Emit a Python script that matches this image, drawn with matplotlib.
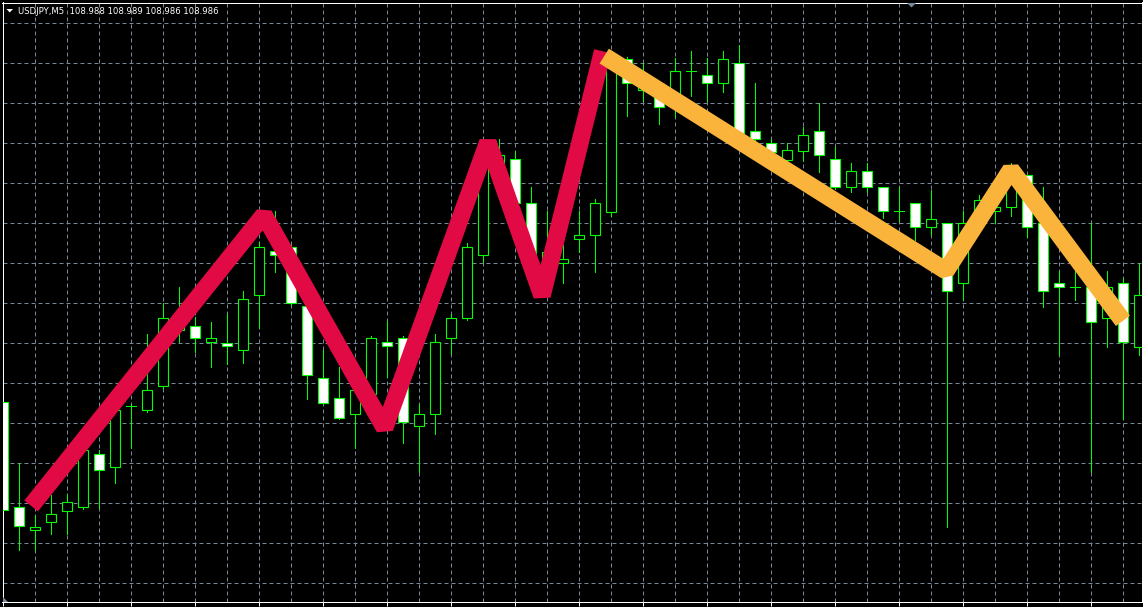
import matplotlib
matplotlib.use("Agg")
import matplotlib.pyplot as plt
from matplotlib.patches import Polygon
import numpy as np

# ---------------- data (USDJPY, M5) ----------------
opens = [108.9653, 108.9391, 108.9333, 108.9353, 108.9381, 108.9391, 108.9523, 108.9491, 108.9643, 108.9633,
         108.9693, 108.9833, 108.9843, 108.9803, 108.9801, 108.9783, 108.9921, 109.0031, 109.0041, 108.9893,
         108.9713, 108.9663, 108.9623, 108.9673, 108.9803, 108.9813, 108.9593, 108.9623, 108.9813, 108.9863,
         109.0021, 109.0251, 109.0261, 109.0151, 109.0013, 109.0001, 109.0061, 109.0071, 109.0128, 109.0511,
         109.0433, 109.0428, 109.0408, 109.0481, 109.0471, 109.0451, 109.0501, 109.0331, 109.0301, 109.0258,
         109.0281, 109.0331, 109.0261, 109.0191, 109.0231, 109.0191, 109.0131, 109.0151, 109.0091, 109.0101,
         108.9951, 109.0121, 109.0131, 109.0141, 109.0221, 109.0101, 108.9951, 108.9941, 108.9941, 108.9863,
         108.9951, 108.9791]
highs = [108.9663, 108.9500, 108.9371, 108.9421, 108.9423, 108.9546, 108.9533, 108.9658, 108.9648, 108.9823,
         108.9901, 108.9941, 108.9866, 108.9853, 108.9873, 108.9931, 109.0053, 109.0131, 109.0046, 108.9898,
         108.9783, 108.9741, 108.9693, 108.9818, 108.9856, 108.9818, 108.9648, 108.9823, 108.9873, 109.0051,
         109.0258, 109.0311, 109.0281, 109.0191, 109.0131, 109.0046, 109.0131, 109.0161, 109.0528, 109.0516,
         109.0501, 109.0438, 109.0513, 109.0531, 109.0513, 109.0531, 109.0546, 109.0451, 109.0311, 109.0301,
         109.0341, 109.0401, 109.0291, 109.0251, 109.0251, 109.0191, 109.0191, 109.0151, 109.0183, 109.0101,
         109.0131, 109.0171, 109.0158, 109.0251, 109.0221, 109.0191, 108.9981, 108.9981, 109.0101, 108.9981,
         108.9963, 109.0001]
lows = [108.9376, 108.9283, 108.9283, 108.9323, 108.9323, 108.9386, 108.9388, 108.9451, 108.9538, 108.9628,
        108.9688, 108.9803, 108.9778, 108.9741, 108.9748, 108.9751, 108.9838, 108.9978, 108.9896, 108.9661,
        108.9648, 108.9611, 108.9538, 108.9668, 108.9716, 108.9551, 108.9478, 108.9573, 108.9773, 108.9858,
        109.0003, 109.0233, 109.0146, 109.0008, 108.9988, 108.9951, 109.0028, 108.9978, 109.0118, 109.0368,
        109.0406, 109.0348, 109.0366, 109.0418, 109.0406, 109.0428, 109.0321, 109.0306, 109.0271, 109.0246,
        109.0256, 109.0228, 109.0186, 109.0178, 109.0178, 109.0113, 109.0106, 109.0058, 109.0071, 108.9341,
        108.9908, 109.0103, 109.0101, 109.0118, 109.0066, 108.9891, 108.9771, 108.9908, 108.9478, 108.9791,
        108.9611, 108.9771]
closes = [108.9383, 108.9343, 108.9341, 108.9373, 108.9403, 108.9533, 108.9483, 108.9633, 108.9643, 108.9683,
          108.9863, 108.9863, 108.9813, 108.9813, 108.9793, 108.9911, 109.0041, 109.0021, 108.9901, 108.9721,
          108.9651, 108.9613, 108.9683, 108.9813, 108.9793, 108.9603, 108.9623, 108.9803, 108.9863, 109.0041,
          109.0246, 109.0271, 109.0151, 109.0013, 109.0028, 109.0011, 109.0071, 109.0151, 109.0508, 109.0451,
          109.0458, 109.0391, 109.0481, 109.0481, 109.0451, 109.0511, 109.0326, 109.0311, 109.0278, 109.0283,
          109.0321, 109.0271, 109.0191, 109.0231, 109.0191, 109.0131, 109.0131, 109.0091, 109.0111, 108.9931,
          109.0101, 109.0158, 109.0141, 109.0201, 109.0091, 108.9931, 108.9941, 108.9941, 108.9853, 108.9941,
          108.9803, 108.9921]

# zigzag vertices: (bar position, price)
red_bar = [1.74, 16.29, 23.83, 30.29, 33.67, 37.46]
red_price = [108.9393, 109.0121, 108.9588, 109.0303, 108.9919, 109.0530]
orange_bar = [37.56, 58.92, 62.98, 69.98]
orange_price = [109.0518, 108.9981, 109.0234, 108.9856]

title = "USDJPY,M5  108.988 108.989 108.986 108.986"
grid_levels = [108.92 + 0.01 * k for k in range(15)]

# ---------------- figure ----------------
W, H = 1143, 607
fig = plt.figure(figsize=(W / 100, H / 100), dpi=100, facecolor="black")
ax = fig.add_axes([2.5 / W, 5.5 / H, 1139 / W, 599 / H])
ax.set_facecolor("black")

PX = 0.72  # one pixel in points
green = "#00FF00"

x = np.arange(len(opens))
o = np.array(opens); h = np.array(highs); l = np.array(lows); c = np.array(closes)

# wicks
ax.vlines(x, l, h, color=green, lw=PX, zorder=2, snap=True, antialiased=False)
# bodies
bull = c > o
bear = c < o
doji = c == o
bw = 0.6
ax.bar(x[bull], (c - o)[bull], bottom=o[bull], width=bw, facecolor="black",
       edgecolor=green, linewidth=PX * 1.1, zorder=3, snap=True)
ax.bar(x[bear], (o - c)[bear], bottom=c[bear], width=bw, facecolor="white",
       edgecolor=green, linewidth=PX * 1.1, zorder=3, snap=True)
ax.hlines(o[doji], x[doji] - bw / 2, x[doji] + bw / 2, color=green, lw=PX,
          zorder=3, snap=True, antialiased=False)

# zigzag lines
LW = 17.5 * PX
ax.plot(red_bar, red_price, color="#E10A45", lw=LW, solid_capstyle="butt",
        solid_joinstyle="bevel", zorder=5)
ax.plot(orange_bar, orange_price, color="#FAB43C", lw=LW, solid_capstyle="butt",
        solid_joinstyle="bevel", zorder=6)

# axes, grid, frame
ax.set_xlim(-0.05, 71.14)
ax.set_ylim(108.9154, 109.0652)
ax.set_xticks(np.arange(0, 72, 4))
ax.set_xticks(np.arange(2, 72, 4), minor=True)
ax.set_yticks(grid_levels)
ax.yaxis.tick_right()
ax.tick_params(axis="x", which="major", direction="out", length=4 * PX, width=PX,
               color="white", labelbottom=False)
ax.tick_params(axis="x", which="minor", length=0, labelbottom=False)
ax.tick_params(axis="y", which="major", direction="out", length=2 * PX, width=PX,
               color="white", labelright=False, labelleft=False)
ax.set_axisbelow(True)
ax.grid(True, which="both", color="#778899", lw=PX, linestyle=(0, (4, 3)))
for s in ax.spines.values():
    s.set_color("white")
    s.set_linewidth(PX)

# header text and small chart markers
def fpt(px, py):
    return (px / W, 1 - py / H)

fig.patches.append(Polygon([fpt(6.5, 9), fpt(13, 9), fpt(9.75, 12.5)], closed=True,
                           transform=fig.transFigure, facecolor="white", edgecolor="none"))
fig.text(18 / W, 1 - 13.5 / H, title, color="white", fontsize=6.1,
         family="DejaVu Sans", va="baseline", ha="left")
fig.patches.append(Polygon([fpt(907, 3), fpt(916, 3), fpt(911.5, 7.5)], closed=True,
                           transform=fig.transFigure, facecolor="#778899", edgecolor="none"))
fig.patches.append(Polygon([fpt(3, 597), fpt(3, 601.5), fpt(7.5, 601.5)], closed=True,
                           transform=fig.transFigure, facecolor="#778899", edgecolor="none"))

fig.savefig("out.png", dpi=100, facecolor="black")
